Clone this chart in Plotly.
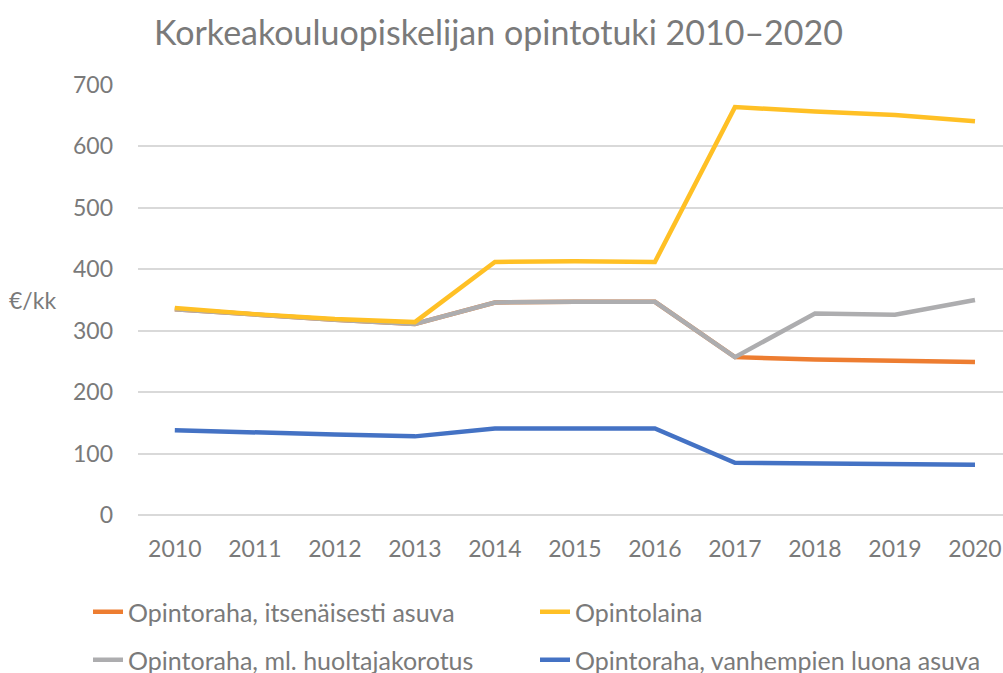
import plotly.graph_objects as go

years = ["2010", "2011", "2012", "2013", "2014", "2015", "2016", "2017", "2018", "2019", "2020"]
itsenainen = [335, 326, 318, 311, 346, 347, 347, 257, 253, 251, 249]
laina = [337, 327, 319, 314, 412, 413, 412, 664, 657, 651, 641]
huoltaja = [335, 326, 318, 311, 346, 347, 347, 257, 328, 326, 350]
vanhemmat = [138, 134, 131, 128, 141, 141, 141, 85, 84, 83, 82]

names = ["Opintoraha, itsenäisesti asuva", "Opintolaina",
         "Opintoraha, ml. huoltajakorotus", "Opintoraha, vanhempien luona asuva"]
colors = ["#ED7D31", "#FFC025", "#ADADAF", "#4472C4"]

TXT = "#7A7A7A"
FONT = "Lato"

fig = go.Figure()
# drawing order: orange, gray, yellow, blue
fig.add_trace(go.Scatter(x=years, y=itsenainen, name=names[0], mode="lines", showlegend=True,
                         line=dict(color=colors[0], width=4.5), legend="legend"))
fig.add_trace(go.Scatter(x=years, y=huoltaja, name=names[2], mode="lines", showlegend=True,
                         line=dict(color=colors[2], width=4.5), legend="legend3"))
fig.add_trace(go.Scatter(x=years, y=laina, name=names[1], mode="lines", showlegend=True,
                         line=dict(color=colors[1], width=4.5), legend="legend2"))
fig.add_trace(go.Scatter(x=years, y=vanhemmat, name=names[3], mode="lines", showlegend=True,
                         line=dict(color=colors[3], width=4.5), legend="legend4"))

legend_common = dict(orientation="h", xref="container", yref="container",
                     xanchor="left", yanchor="middle",
                     font=dict(family=FONT, size=25, color=TXT),
                     bgcolor="rgba(0,0,0,0)")

col1, col2 = 88 / 1003, 535 / 1003
row1, row2 = 1 - 612 / 673, 1 - 660 / 673

fig.update_layout(
    width=1003, height=673,
    showlegend=True,
    margin=dict(l=138, r=0, t=85, b=158),
    paper_bgcolor="white", plot_bgcolor="white",
    font=dict(family=FONT, color=TXT),
    title=dict(text="Korkeakouluopiskelijan opintotuki 2010–2020",
               x=0.497, xanchor="center", y=0.951, yanchor="middle",
               font=dict(family=FONT, size=34, color=TXT)),
    xaxis=dict(type="category", range=[-0.46, 10.35], showgrid=False,
               showline=False, ticks="", ticklabelstandoff=18,
               tickfont=dict(family=FONT, size=23, color=TXT)),
    yaxis=dict(range=[0, 700], dtick=100, showgrid=True, gridcolor="#D9D9D9",
               gridwidth=1.5, zeroline=True, zerolinecolor="#D9D9D9", zerolinewidth=1.5,
               showline=False, ticks="", ticklabelstandoff=24,
               tickfont=dict(family=FONT, size=23, color=TXT)),
    legend=dict(x=col1, y=row1, **legend_common),
    legend2=dict(x=col2, y=row1, **legend_common),
    legend3=dict(x=col1, y=row2, **legend_common),
    legend4=dict(x=col2, y=row2, **legend_common),
    annotations=[dict(text="€/kk", xref="paper", yref="paper", x=-0.1514, y=350 / 700,
                      xanchor="left", yanchor="middle", showarrow=False,
                      font=dict(family=FONT, size=23, color=TXT))],
)

fig.write_html("out.html", config={"displayModeBar": False},
               post_script="document.body.style.margin='0';document.body.style.padding='0';")
